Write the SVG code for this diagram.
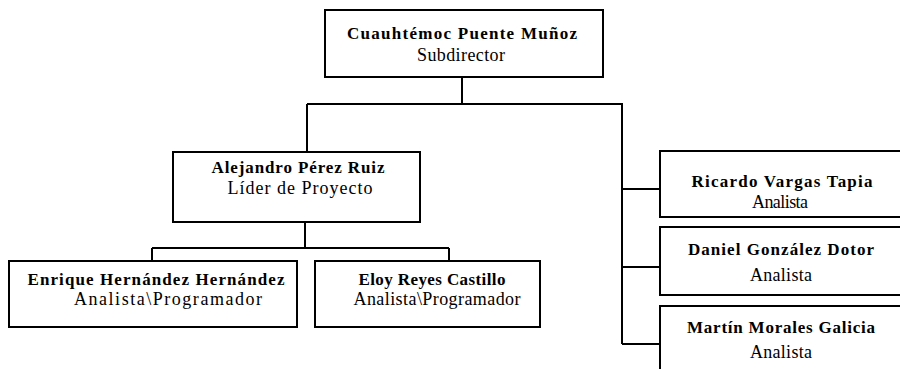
<svg xmlns="http://www.w3.org/2000/svg" width="900" height="369" viewBox="0 0 900 369">
<style>
.box{fill:#fff;stroke:#000;stroke-width:2}
.ln{fill:none;stroke:#000;stroke-width:2}
text{font-family:"Liberation Serif","Times New Roman",serif;font-size:18px;fill:#000;text-anchor:middle}
.n{font-weight:bold;font-size:17px}
</style>
<rect width="900" height="369" fill="#fff"/>
<g id="connectors">
<path class="ln" d="M462 77V104M307 104H622V344M307 104V152"/>
<path class="ln" d="M622 189H660M622 267H660M622 344H660"/>
<path class="ln" d="M305 222V248M152 248H449M152 248V261M449 248V261"/>
</g>
<g id="n-cuauhtemoc">
<rect class="box" x="325" y="10" width="278" height="67"/>
<text class="n" x="462" y="39" textLength="230">Cuauhtémoc  Puente Muñoz</text>
<text x="461" y="61" textLength="88">Subdirector</text>
</g>
<g id="n-alejandro">
<rect class="box" x="173" y="152" width="247" height="70"/>
<text class="n" x="298" y="173" textLength="173">Alejandro Pérez Ruiz</text>
<text x="300" y="194" textLength="145">Líder de Proyecto</text>
</g>
<g id="n-enrique">
<rect class="box" x="9" y="261" width="288" height="66"/>
<text class="n" x="156" y="285" textLength="257">Enrique Hernández Hernández</text>
<text x="168" y="305" textLength="188">Analista\Programador</text>
</g>
<g id="n-eloy">
<rect class="box" x="315" y="261" width="225" height="66"/>
<text class="n" x="432" y="285" textLength="147">Eloy Reyes Castillo</text>
<text x="437" y="305" textLength="167">Analista\Programador</text>
</g>
<g id="n-ricardo">
<rect class="box" x="660" y="151" width="250" height="66"/>
<text class="n" x="782" y="187" textLength="181">Ricardo Vargas Tapia</text>
<text x="780" y="208" textLength="56">Analista</text>
</g>
<g id="n-daniel">
<rect class="box" x="660" y="227" width="250" height="68"/>
<text class="n" x="781" y="255" textLength="186">Daniel González Dotor</text>
<text x="781" y="281" textLength="62">Analista</text>
</g>
<g id="n-martin">
<rect class="box" x="660" y="306" width="250" height="80"/>
<text class="n" x="781" y="333" textLength="188">Martín Morales Galicia</text>
<text x="781" y="358" textLength="62">Analista</text>
</g>
</svg>
